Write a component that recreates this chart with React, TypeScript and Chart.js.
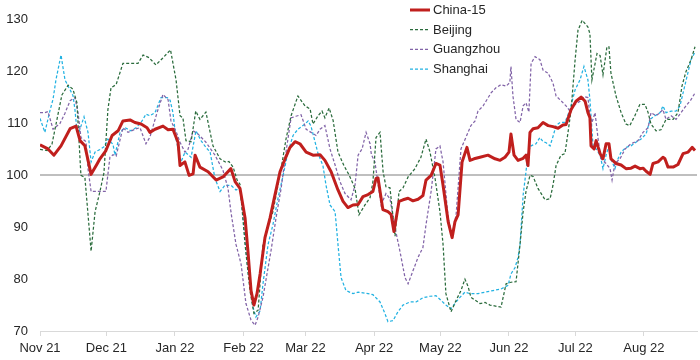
import React, { useEffect, useRef } from "react";
import { Chart, registerables } from "chart.js";

Chart.register(...registerables);

// x = days since 1 Nov 2021
const monthTicks = [0, 30, 61, 92, 120, 151, 181, 212, 242, 273];
const monthLabels = ["Nov 21", "Dec 21", "Jan 22", "Feb 22", "Mar 22", "Apr 22", "May 22", "Jun 22", "Jul 22", "Aug 22"];
const yTicks = [70, 80, 90, 100, 110, 120, 130];
const seriesNames = ["China-15", "Beijing", "Guangzhou", "Shanghai"];

const china15: number[][] = [
  [0,105.9],[3.6,105.1],[6.3,103.9],[9.5,105.7],[13.6,109.0],[16.3,109.5],[18.1,106.7],[20.3,105.7],[23.1,100.2],[25.8,102.2],
  [27.1,103.2],[29.8,104.8],[32.6,107.7],[35.3,108.6],[37.5,110.5],[40.7,110.7],[42.9,110.2],[45.7,109.9],[48.4,109.2],[49.7,108.3],
  [52,108.9],[55.6,109.5],[57.9,108.8],[60.1,108.9],[62.4,106.4],[63.3,101.9],[65.5,102.6],[67.4,100.0],[69.2,100.3],[70.1,103.9],
  [72.3,101.6],[76,100.7],[79.6,99.1],[82.7,99.7],[86.3,101.3],[88.2,98.8],[90.4,97.5],[92.7,91.8],[94,85.4],[95.4,77.8],
  [96.7,75.0],[98.1,77.2],[99.5,81.0],[101.7,88.0],[104,91.8],[106.2,96.2],[108.5,100.7],[110.8,103.2],[113,105.4],[115.3,106.5],
  [117.5,106.1],[120.3,104.5],[123.4,103.9],[126.6,104.0],[128.8,102.9],[131.6,100.7],[134.7,97.2],[137,95.0],[139.2,93.8],[141.5,94.3],
  [143.8,94.4],[146,95.9],[148.3,96.3],[150.5,96.9],[151.9,99.4],[152.8,99.5],[155,93.4],[157.3,93.0],[158.7,92.5],[160,89.2],
  [162.3,95.0],[164.1,95.3],[166.4,95.6],[168.6,95.1],[170.9,95.4],[173.1,96.1],[174.5,99.1],[176.8,100.0],[179,102.3],[180.8,102.0],
  [182.2,98.1],[184.5,91.1],[186.3,88.0],[187.6,91.1],[189,92.4],[190.8,102.6],[193,105.4],[194.4,102.9],[196.2,103.2],[198.9,103.5],
  [202.5,103.9],[205.7,103.2],[208,102.9],[210.2,103.5],[212,104.5],[212.9,108.0],[214.3,103.9],[216.1,102.9],[218.4,103.3],[219.7,103.9],
  [220.6,101.9],[221.5,108.3],[222.9,109.0],[225.1,109.2],[227.4,110.2],[229.7,109.6],[231.9,109.4],[234.2,109.1],[236.4,109.7],[237.8,109.8],
  [240.1,112.7],[242.3,114.3],[244.6,115.1],[246.4,114.3],[247.7,112.1],[248.6,111.1],[249.1,105.7],[250.5,105.1],[251.4,106.7],[253.2,104.2],
  [254.5,103.2],[255.9,106.1],[257.2,106.1],[258.1,103.2],[260.4,102.3],[262.7,102.0],[264.9,101.3],[267.2,101.4],[269,101.8],[271.2,101.3],
  [272.6,101.4],[274,100.8],[275.8,100.2],[277.1,102.3],[279.4,102.6],[281.6,103.5],[282.5,103.2],[283.9,101.6],[286.2,101.6],[288.4,102.1],
  [290.7,104.2],[293,104.5],[294.8,105.4],[296.1,104.8]
];

const beijing: number[][] = [
  [0,105.0],[3.2,104.8],[5.4,106.0],[9.9,115.5],[12.7,117.4],[14.9,116.6],[16.7,114.0],[18.5,100.0],[20.3,99.6],[23.1,85.4],
  [24.9,93.0],[27.1,96.9],[28.9,100.5],[30.7,112.7],[32.1,116.9],[34.4,117.5],[37.5,121.6],[40.7,121.6],[44.3,121.6],[46.6,123.2],
  [49.3,122.7],[52.4,121.3],[55.2,122.5],[59,124.2],[61.5,118.4],[63.3,111.5],[64.6,111.1],[66,106.7],[68.3,106.5],[70.4,112.4],
  [72.3,110.8],[75,112.2],[78.2,105.7],[81.4,103.2],[84.1,102.5],[85.4,102.7],[87.3,101.6],[89.1,99.1],[90.4,98.3],[92.7,86.7],
  [94.9,77.8],[96.7,73.4],[98.6,74.0],[100.8,86.7],[103.1,90.0],[105.3,93.0],[109,101.3],[111.2,107.0],[113.5,111.5],[116.6,115.3],
  [119.8,113.4],[122.1,112.8],[123.4,109.9],[125.7,111.5],[127.5,112.4],[128.8,111.1],[130.7,113.0],[132.5,110.6],[134.7,104.5],[137.4,101.9],
  [139.7,100.1],[142.4,97.5],[144.2,92.4],[146.9,94.3],[149.2,95.7],[150.5,98.8],[151.9,107.3],[153.7,108.3],[155.1,100.7],[156.4,97.8],
  [158.2,97.6],[160.5,88.3],[162.3,96.9],[164.1,97.6],[166.4,99.7],[169.5,101.3],[172.2,103.5],[174.5,107.0],[176.3,104.5],[178.6,99.4],
  [180.8,93.0],[182.2,86.7],[183.5,77.2],[185.8,73.7],[188.1,75.9],[190.3,77.8],[192.1,80.0],[193.5,78.6],[194.8,76.5],[198.9,75.3],
  [201.2,75.5],[203.4,75.0],[208.4,74.6],[210.7,79.1],[212.9,79.4],[215.2,79.5],[217,86.7],[218.4,93.0],[219.7,96.9],[221.5,100.0],
  [222.9,99.8],[225.1,97.5],[228.3,95.3],[230.6,95.5],[231.9,98.1],[233.3,101.9],[235.5,103.9],[237.3,104.2],[238.7,108.3],[240.1,112.7],
  [241.9,122.3],[243.2,128.0],[245.1,129.9],[247.7,128.6],[248.6,127.3],[249.5,118.4],[251.8,123.5],[253.2,123.1],[254.5,119.4],[256.3,124.8],
  [257.2,124.8],[258.1,119.7],[260.4,115.3],[262.7,112.1],[264.9,109.9],[266.6,109.6],[268.9,111.5],[271.2,113.7],[273.5,113.7],[274.9,112.1],
  [276.2,109.9],[278.5,108.6],[280.7,108.8],[283,110.8],[286.2,110.8],[288.4,112.1],[290.2,117.2],[292,120.0],[294.3,122.3],[296.1,124.8]
];

const guangzhou: number[][] = [
  [0,112.1],[2.2,112.1],[3.6,112.3],[5.9,108.9],[9,110.0],[11.3,112.0],[13.6,114.4],[15.8,115.0],[17.2,112.1],[18.5,107.3],
  [20.8,106.5],[21.7,101.3],[23.1,96.9],[25.3,96.9],[29.8,96.9],[31.6,103.5],[33,104.0],[34.4,103.7],[37.5,109.2],[39.8,108.3],
  [42.9,108.9],[45.2,109.2],[47.9,106.1],[49.7,107.4],[52.9,112.1],[55.6,115.6],[57.9,114.6],[59.2,110.5],[61.5,108.5],[63.3,106.4],
  [65.5,104.5],[66.9,105.0],[69.2,108.6],[71.4,108.0],[75,106.4],[79.1,103.9],[82.7,101.0],[85,97.5],[86.3,93.0],[88.6,86.7],
  [90.9,82.9],[93.1,75.3],[95.4,72.1],[97.2,71.1],[98.6,72.7],[100.8,76.5],[103.1,82.2],[104.4,85.4],[106.7,91.8],[109,97.5],
  [111.2,104.5],[113.5,111.1],[115.7,111.4],[118,111.7],[120.3,108.9],[122.5,108.3],[124.8,107.7],[126.6,108.9],[128.8,109.6],[131.1,105.1],
  [133.4,102.0],[135.6,98.8],[137.9,96.5],[140.6,95.3],[142.4,98.1],[143.8,103.9],[145.6,105.1],[147.4,108.3],[149.2,106.1],[149.8,104.0],
  [151.4,102.6],[154.2,94.3],[156.4,96.5],[158.2,95.5],[160.5,89.9],[162.7,85.4],[165,80.3],[166.4,79.1],[168.6,81.6],[170.9,84.2],
  [173.1,86.1],[174.5,90.5],[176.8,96.9],[179,105.1],[180.8,105.7],[182.2,102.6],[184.5,91.8],[186.3,88.6],[188.1,92.4],[190.3,105.1],
  [193.5,108.3],[194.8,109.6],[196.7,110.5],[198,112.4],[200.3,113.4],[201.6,114.3],[203.9,115.9],[206.1,116.9],[208.4,117.5],[210.7,117.2],
  [212.4,117.9],[212.9,121.0],[213.8,115.3],[215.2,110.8],[217,110.2],[218.4,113.4],[219.7,114.0],[221,112.2],[222,121.6],[223.8,122.9],
  [226,122.3],[227.4,120.3],[229.7,119.7],[231.9,117.8],[233.3,115.3],[235.5,114.4],[237.8,113.4],[239.6,112.4],[241.9,113.7],[244.1,114.3],
  [245.9,115.2],[247.7,115.0],[249.1,109.6],[250.9,112.1],[252.3,107.0],[253.6,103.2],[255.9,102.3],[257.7,101.3],[258.6,99.1],[259.9,102.3],
  [262.2,103.2],[264.5,105.1],[267.2,106.1],[270.3,106.7],[272.6,108.3],[274.9,109.2],[276.2,112.1],[278.5,111.5],[280.3,112.1],[281.6,112.7],
  [283,110.8],[285.3,111.5],[287.5,110.8],[289.8,112.1],[292,113.4],[294.3,114.6],[296.1,115.9]
];

const shanghai: number[][] = [
  [0,111.0],[2.2,108.3],[4.5,112.5],[5.9,114.7],[7.2,118.4],[9.5,123.2],[11.3,118.4],[13.6,116.5],[14.9,115.4],[15.8,112.7],
  [16.7,108.6],[17.6,108.3],[19.9,111.3],[21.7,108.3],[23.1,102.6],[24.9,104.5],[27.1,105.0],[28.9,105.5],[30.7,107.0],[33,106.0],
  [33.9,103.9],[36.2,108.3],[38.4,109.2],[41.1,108.6],[43.4,109.2],[45.7,110.2],[47.9,111.8],[49.7,111.5],[52,112.1],[54.7,115.0],
  [57.5,115.0],[58.8,114.5],[60.1,112.1],[61.5,107.0],[63.7,102.6],[65.6,104.5],[68.3,103.5],[70.5,108.6],[72.8,106.7],[75,105.4],
  [76.9,104.5],[79.1,99.4],[81.4,96.9],[83.6,98.1],[86.3,98.1],[88.6,97.2],[90.4,97.5],[91.8,91.8],[94,81.6],[96.3,74.6],
  [97.6,72.7],[99.5,73.9],[100.8,79.1],[103.1,86.7],[105.3,90.5],[107.6,95.6],[109.9,100.0],[112.1,104.5],[114.4,107.7],[116.6,108.9],
  [119.8,109.9],[121.2,110.5],[122.5,109.5],[125.7,104.2],[127.9,101.9],[129.3,98.1],[131.1,94.3],[133.4,93.0],[134.7,86.7],[136.1,80.3],
  [138.3,77.8],[141.5,77.2],[143.8,77.5],[148.3,77.2],[150.5,77.0],[153.7,75.6],[155.9,73.4],[157.3,71.8],[159.6,72.0],[161.8,73.7],
  [164.1,75.0],[167.3,75.6],[170,75.6],[173.1,76.4],[176.3,76.7],[179,76.8],[181.3,75.9],[183.5,75.0],[185.8,74.3],[189,76.1],
  [192.1,77.5],[194.4,77.2],[198,77.2],[201.2,77.5],[204.8,77.8],[208.4,78.1],[211.6,78.8],[212.9,81.0],[214.7,82.2],[216.1,84.2],
  [217,86.7],[218.4,96.2],[219.7,100.7],[220.6,104.5],[222,105.7],[224.2,106.1],[226,107.3],[227.4,106.5],[228.8,106.3],[230.6,105.7],
  [231.9,107.5],[233.3,109.6],[235.1,110.2],[237.3,110.2],[239.6,112.7],[241.9,116.5],[244.1,118.4],[245.9,121.0],[247.7,118.4],[248.6,114.6],
  [250,105.7],[251.4,105.1],[253.2,103.9],[254.5,101.3],[255.9,103.9],[257.2,105.7],[258.1,103.2],[259.9,101.3],[261.3,103.2],[262.7,104.5],
  [264.9,105.4],[267.2,105.7],[269.4,106.4],[271.7,107.0],[274,108.0],[275.8,110.8],[278,111.5],[280.3,112.1],[281.6,113.4],[283,112.1],
  [285.3,112.4],[287.5,112.4],[289.3,113.4],[290.7,115.9],[292.5,119.1],[294.3,122.3],[296.1,123.8]
];

const FONT = '"Liberation Sans", Arial, Helvetica, sans-serif';
const TEXT = "#262626";

const legendPlugin = {
  id: "insideLegend",
  afterDraw(chart: any) {
    const { ctx } = chart;
    const x0 = 410;
    const y0 = 10;
    ctx.save();
    chart.data.datasets.forEach((ds: any, i: number) => {
      const y = y0 + i * 19.7;
      ctx.beginPath();
      ctx.strokeStyle = ds.borderColor;
      ctx.lineWidth = ds.borderWidth;
      ctx.setLineDash(ds.borderDash || []);
      ctx.moveTo(x0, y);
      ctx.lineTo(x0 + 20, y);
      ctx.stroke();
      ctx.setLineDash([]);
      ctx.fillStyle = TEXT;
      ctx.font = `13px ${FONT}`;
      ctx.textAlign = "left";
      ctx.textBaseline = "middle";
      ctx.fillText(ds.label, x0 + 23, y + 0.5);
    });
    ctx.restore();
  },
};

const toXY = (arr: number[][]) => arr.map(([x, y]) => ({ x, y }));

export default function App() {
  const ref = useRef<HTMLCanvasElement | null>(null);
  useEffect(() => {
    if (!ref.current) return;
    Chart.defaults.font.family = FONT;
    Chart.defaults.font.size = 13;
    Chart.defaults.color = TEXT;
    const chart = new Chart(ref.current, {
      type: "line",
      data: {
        datasets: [
          { label: seriesNames[0], data: toXY(china15), borderColor: "#c01f1d", borderWidth: 3, borderJoinStyle: "round" },
          { label: seriesNames[1], data: toXY(beijing), borderColor: "#2a6b3c", borderWidth: 1.25, borderDash: [3, 2] },
          { label: seriesNames[2], data: toXY(guangzhou), borderColor: "#8264a8", borderWidth: 1.25, borderDash: [3, 2] },
          { label: seriesNames[3], data: toXY(shanghai), borderColor: "#22b2e2", borderWidth: 1.25, borderDash: [3, 2] },
        ] as any,
      },
      options: {
        responsive: false,
        animation: false,
        devicePixelRatio: 1,
        layout: { padding: { top: 16, right: 3, left: 0, bottom: 0 } },
        elements: { point: { radius: 0 }, line: { tension: 0, fill: false } },
        plugins: { legend: { display: false }, tooltip: { enabled: false } },
        scales: {
          x: {
            type: "linear",
            min: 0,
            max: 297,
            afterBuildTicks: (s: any) => {
              s.ticks = monthTicks.map((v) => ({ value: v }));
            },
            afterFit: (s: any) => {
              s.height = 29;
            },
            ticks: {
              autoSkip: false,
              maxRotation: 0,
              padding: 5,
              color: TEXT,
              font: { size: 13 },
              callback: (v: any) => {
                const i = monthTicks.indexOf(Number(v));
                return i >= 0 ? monthLabels[i] : "";
              },
            },
            grid: { drawOnChartArea: false, drawTicks: true, tickLength: 5, color: "#d9d9d9" },
            border: { display: true, color: "#d9d9d9", width: 1 },
          },
          y: {
            type: "linear",
            min: 70,
            max: 130,
            afterBuildTicks: (s: any) => {
              s.ticks = yTicks.map((v) => ({ value: v }));
            },
            afterFit: (s: any) => {
              s.width = 40;
            },
            ticks: { padding: 12, color: TEXT, font: { size: 13 } },
            grid: {
              drawTicks: false,
              lineWidth: 2,
              color: (c: any) => (c.tick && c.tick.value === 100 ? "#bfbfbf" : "rgba(0,0,0,0)"),
            },
            border: { display: false },
          },
        },
      } as any,
      plugins: [legendPlugin],
    });
    return () => chart.destroy();
  }, []);
  return (
    <div style={{ position: "absolute", left: 0, top: 0, width: 700, height: 360, background: "#fff" }}>
      <canvas ref={ref} width={700} height={360} />
    </div>
  );
}
